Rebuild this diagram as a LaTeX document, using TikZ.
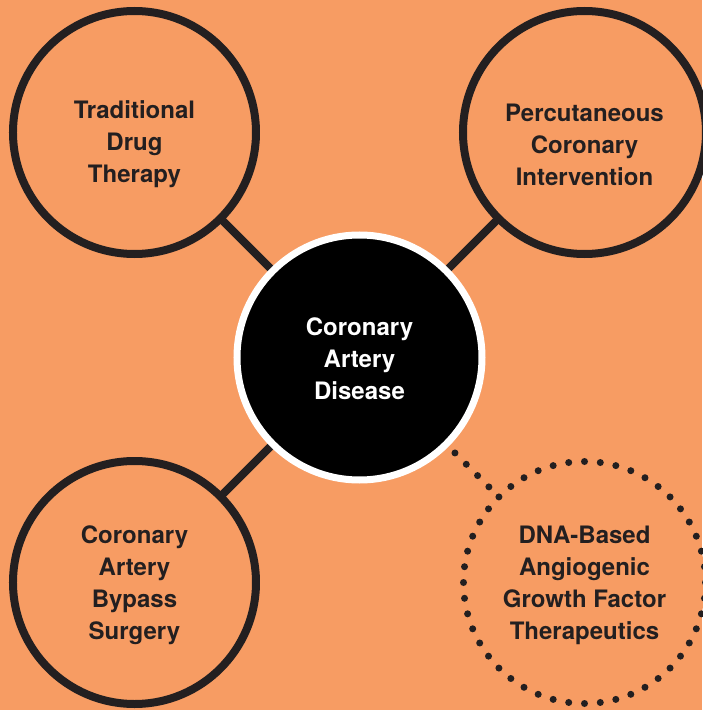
\documentclass[tikz,border=0pt]{standalone}
\usepackage{fontspec}
\setmainfont{TeX Gyre Heros}
\usetikzlibrary{positioning,backgrounds}
\definecolor{bgorange}{HTML}{F79C63}
\definecolor{ink}{HTML}{231F20}
\tikzstyle{topic} = [draw=ink, circle, line width=8pt, fill=bgorange, minimum size=243pt, inner sep=0pt]
\tikzstyle{future} = [draw=ink, circle, line width=7pt, dash pattern=on 0pt off 15.84pt, line cap=round, fill=bgorange, minimum size=242pt, inner sep=0pt]
\tikzstyle{disease} = [draw=white, fill=black, circle, line width=7pt, minimum size=245pt, inner sep=0pt]
\tikzstyle{txt} = [text=ink, align=center, font=\bfseries\fontsize{24}{32}\selectfont]
\tikzstyle{link} = [draw=ink, line width=8pt]
\tikzstyle{dotlink} = [draw=ink, line width=7pt, dash pattern=on 0pt off 16pt, dash phase=7pt, line cap=round]

\begin{document}
\begin{tikzpicture}[node distance=225pt and 225pt, on grid]
\useasboundingbox (-359.5pt,-352.5pt) rectangle (342.5pt,357.5pt);

\node [disease] (cad) at (0,0) {};

\node [topic, above left=of cad] (tl) {};
\node [topic, above right=of cad] (tr) {};
\node [topic, below left=of cad] (bl) {};
\node [future, below right=of cad] (dna) {};

% labels
\node [txt, text=white, below=1pt of cad] (cadtext) {Coronary\\Artery\\Disease};
\node [txt, below=12pt of tl] (tltext) {Traditional\\Drug\\Therapy};
\node [txt, below=12pt of tr] (trtext) {Percutaneous\\Coronary\\Intervention};
\node [txt, below=3pt of bl] (bltext) {Coronary\\Artery\\Bypass\\Surgery};
\node [txt, below=3pt of dna] (dnatext) {DNA-Based\\Angiogenic\\Growth Factor\\Therapeutics};

\begin{scope}[on background layer]
\fill [bgorange] (-359.5pt,-352.5pt) rectangle (342.5pt,357.5pt);
\draw [link] (cad.center) -- (tl.center);
\draw [link] (cad.center) -- (tr.center);
\draw [link] (cad.center) -- (bl.center);
\end{scope}

\draw [dotlink] (cad) -- (dna);
\end{tikzpicture}
\end{document}
